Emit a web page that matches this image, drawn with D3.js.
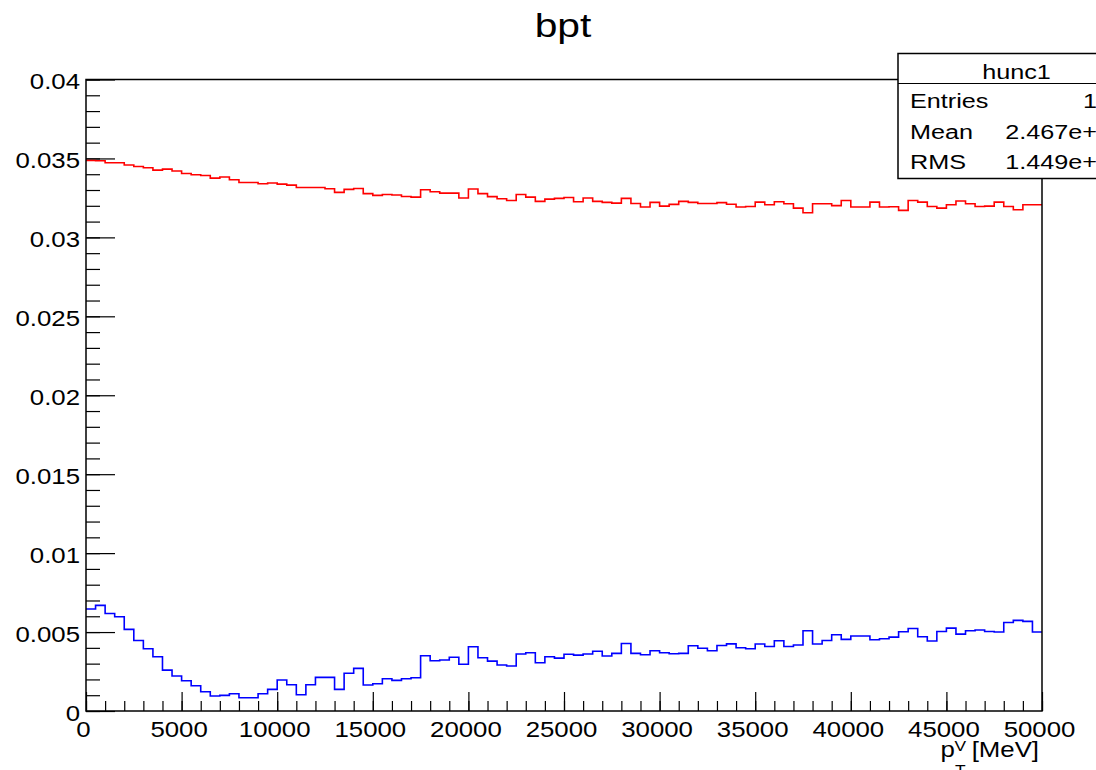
<!DOCTYPE html>
<html>
<head>
<meta charset="utf-8">
<script src="https://cdn.jsdelivr.net/npm/d3@7"></script>
<style>
    body { margin: 0; background: #fff; }
    text { font-family: "Liberation Sans", Arial, Helvetica, sans-serif; fill: #000; }
</style>
</head>
<body>
<div id="chart"></div>
<script>
// Histogram binning
const xMin = 0,
    xMax = 50000,
    nBins = 100;

// Bin contents (500 MeV bins)
const redValues = [
    0.03487, 0.03485, 0.03473, 0.03473, 0.03458, 0.03449, 0.03441, 0.03426, 0.03432, 0.0342,
    0.03405, 0.03397, 0.03392, 0.03375, 0.03382, 0.03365, 0.03348, 0.03348, 0.0334, 0.03344,
    0.03337, 0.03331, 0.03316, 0.03316, 0.03316, 0.03308, 0.03285, 0.03304, 0.0331, 0.03277,
    0.03266, 0.03272, 0.03268, 0.03259, 0.03255, 0.03302, 0.03289, 0.0328, 0.0328, 0.03249,
    0.03306, 0.03277, 0.03258, 0.03245, 0.03234, 0.03272, 0.03255, 0.03228, 0.03242, 0.03247,
    0.03253, 0.03226, 0.03249, 0.03228, 0.03222, 0.03217, 0.03247, 0.03215, 0.03192, 0.03222,
    0.03198, 0.03209, 0.03228, 0.03222, 0.03215, 0.03215, 0.0322, 0.0321, 0.03192, 0.03196,
    0.03223, 0.03207, 0.03226, 0.03213, 0.03185, 0.03156, 0.03213, 0.03213, 0.03201, 0.03234,
    0.03192, 0.03192, 0.03223, 0.03192, 0.03194, 0.03171, 0.03234, 0.03223, 0.03196, 0.03185,
    0.03207, 0.0323, 0.03213, 0.03196, 0.03198, 0.03223, 0.03196, 0.03175, 0.03207, 0.03207,
];

const blueValues = [
    0.00646, 0.00669, 0.00618, 0.00597, 0.00517, 0.00447, 0.00394, 0.00344, 0.00259, 0.00222,
    0.00192, 0.0016, 0.00122, 0.00095, 0.00099, 0.00109, 0.00084, 0.00084, 0.00109, 0.00137,
    0.00196, 0.00166, 0.00103, 0.00166, 0.00213, 0.00213, 0.00137, 0.00239, 0.0027, 0.00165,
    0.00173, 0.00204, 0.00194, 0.00204, 0.00211, 0.0035, 0.00318, 0.00323, 0.0034, 0.00296,
    0.00407, 0.00337, 0.00316, 0.00291, 0.00285, 0.00361, 0.00369, 0.00306, 0.00344, 0.00335,
    0.00359, 0.00354, 0.00361, 0.00378, 0.00348, 0.00365, 0.00428, 0.00365, 0.00356, 0.00382,
    0.00369, 0.00363, 0.00365, 0.00413, 0.00397, 0.00382, 0.00415, 0.00425, 0.00401, 0.00394,
    0.00424, 0.00409, 0.00445, 0.00409, 0.00418, 0.00508, 0.00424, 0.00447, 0.00483, 0.00454,
    0.00475, 0.00475, 0.00451, 0.00458, 0.00468, 0.00502, 0.00523, 0.0047, 0.00443, 0.00504,
    0.00525, 0.00487, 0.00508, 0.00513, 0.00504, 0.005, 0.00561, 0.00574, 0.00568, 0.005,
];

// Axis ticks
const xTickValues = [0, 5000, 10000, 15000, 20000, 25000, 30000, 35000, 40000, 45000, 50000];
const xMinorTicks = d3.range(0, 50001, 1000);
const yTickValues = [0, 0.005, 0.01, 0.015, 0.02, 0.025, 0.03, 0.035, 0.04];
const yMinorTicks = d3.range(0, 41).map((d) => d / 1000);

// Stats box
const statTitle = "hunc1";
const statLabels = ["Entries", "Mean", "RMS"];
const statValues = ["100", "2.467e+04", "1.449e+04"];

// Set dimensions
const width = 1096,
    height = 770;
const frame = { left: 86, right: 1042, top: 79.5, bottom: 711 };
const SX = 1.2; // horizontal stretch of the text in the reference

const svg = d3
    .select("#chart")
    .append("svg")
    .attr("width", width)
    .attr("height", height);

svg.append("rect").attr("width", width).attr("height", height).attr("fill", "#fff");

const x = d3.scaleLinear().domain([xMin, xMax]).range([frame.left, frame.right]);
const y = d3.scaleLinear().domain([0, 0.04]).range([frame.bottom, frame.top]);

function addText(parent, px, py, str, size, anchor) {
    return parent
        .append("text")
        .attr("transform", `translate(${px},${py}) scale(${SX},1)`)
        .attr("font-size", size)
        .attr("text-anchor", anchor || "start")
        .text(str);
}

// Title
addText(svg, 563, 36.7, "bpt", 34, "middle");

// Minor ticks
svg.append("g")
    .attr("transform", `translate(${frame.left},0)`)
    .call(d3.axisLeft(y).tickValues(yMinorTicks).tickSize(-14).tickFormat(""));
svg.append("g")
    .attr("transform", `translate(0,${frame.bottom})`)
    .call(d3.axisBottom(x).tickValues(xMinorTicks).tickSize(-10).tickFormat(""));

// Major ticks + labels
const yAxis = svg
    .append("g")
    .attr("transform", `translate(${frame.left},0)`)
    .call(
        d3.axisLeft(y)
            .tickValues(yTickValues)
            .tickSize(-29)
            .tickPadding(6)
            .tickFormat((d) => (d === 0 ? "0" : String(+d.toFixed(3)))),
    );
yAxis.selectAll(".tick text")
    .attr("x", 0)
    .attr("dy", "0.32em")
    .attr("font-size", 21.5)
    .attr("transform", `translate(-6,2.5) scale(${SX},1)`);

const xAxis = svg
    .append("g")
    .attr("transform", `translate(0,${frame.bottom})`)
    .call(d3.axisBottom(x).tickValues(xTickValues).tickSize(-19).tickFormat(d3.format("d")));
xAxis.selectAll(".tick text")
    .attr("y", 0)
    .attr("dy", 0)
    .attr("font-size", 21.5)
    .attr("transform", `translate(-3,26) scale(${SX},1)`);

svg.selectAll(".domain").remove();
svg.selectAll(".tick line").attr("stroke", "#000").attr("stroke-width", 1.2);
svg.selectAll("g").attr("font-family", null);

// Histograms
const binW = (xMax - xMin) / nBins;
const step = d3
    .line()
    .x((d) => x(d[0]))
    .y((d) => y(d[1]))
    .curve(d3.curveStepAfter);

function histPoints(values) {
    const pts = values.map((v, i) => [xMin + i * binW, v]);
    pts.push([xMax, values[values.length - 1]]);
    return pts;
}

svg.append("path")
    .attr("d", step(histPoints(redValues)))
    .attr("fill", "none")
    .attr("stroke", "#ff0000")
    .attr("stroke-width", 1.6);

svg.append("path")
    .attr("d", step(histPoints(blueValues)))
    .attr("fill", "none")
    .attr("stroke", "#0000ff")
    .attr("stroke-width", 1.6);

// Frame
svg.append("rect")
    .attr("x", frame.left)
    .attr("y", frame.top)
    .attr("width", frame.right - frame.left)
    .attr("height", frame.bottom - frame.top)
    .attr("fill", "none")
    .attr("stroke", "#000")
    .attr("stroke-width", 1.5);

// X axis title: p_T^V [MeV]
const xt = svg.append("g");
addText(xt, 940.5, 757, "p", 21.5);
addText(xt, 954.5, 750.5, "V", 14.5);
addText(xt, 955, 775, "T", 14.5);
addText(xt, 1039, 757, "[MeV]", 21.5, "end");

// Stats box
const box = { left: 898, top: 53.5, right: 1135, sep: 83.5, bottom: 178.5 };
svg.append("rect")
    .attr("x", box.left)
    .attr("y", box.top)
    .attr("width", box.right - box.left)
    .attr("height", box.bottom - box.top)
    .attr("fill", "#fff")
    .attr("stroke", "#000")
    .attr("stroke-width", 1.5);
svg.append("line")
    .attr("x1", box.left)
    .attr("x2", box.right)
    .attr("y1", box.sep)
    .attr("y2", box.sep)
    .attr("stroke", "#000")
    .attr("stroke-width", 1.2);

addText(svg, (box.left + box.right) / 2, 79, statTitle, 21, "middle");
const rowBase = [108.3, 139, 169];
statLabels.forEach((lab, i) => {
    addText(svg, 910, rowBase[i], lab, 21);
    addText(svg, 1125, rowBase[i], statValues[i], 21, "end");
});
</script>
</body>
</html>
